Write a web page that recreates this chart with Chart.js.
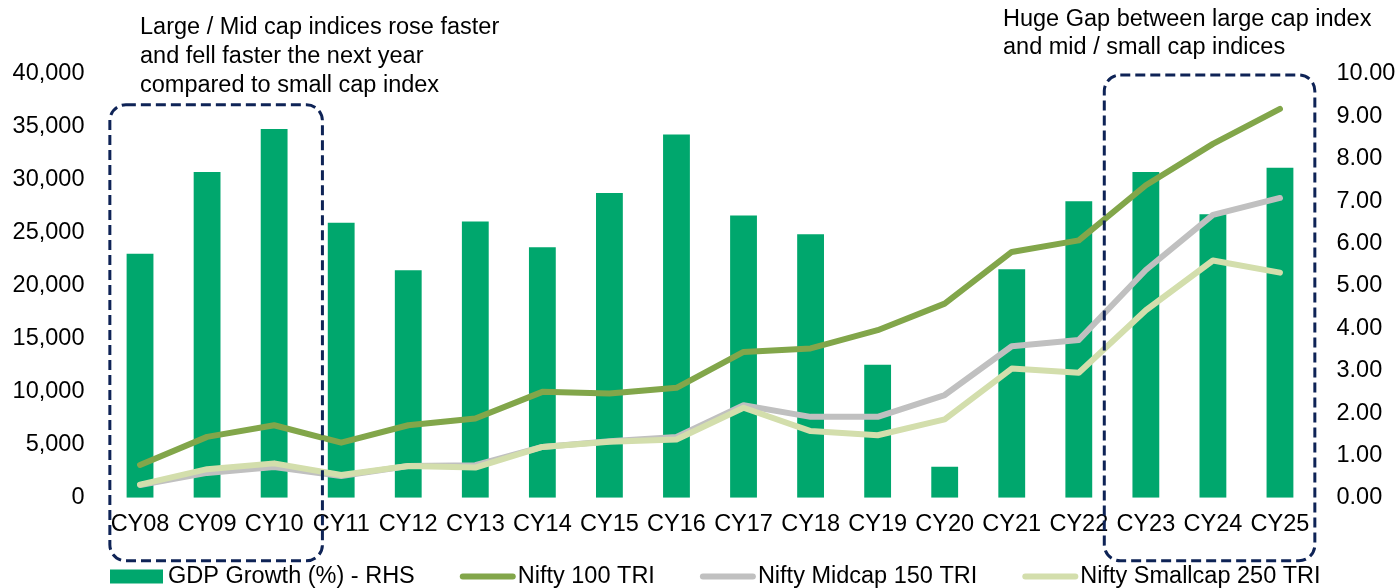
<!DOCTYPE html>
<html>
<head>
<meta charset="utf-8">
<script src="https://cdn.jsdelivr.net/npm/chart.js@4.4.1/dist/chart.umd.min.js"></script>
<style>
  html, body { margin: 0; padding: 0; background: #fff; }
  #wrap { position: relative; width: 1398px; height: 588px; }
</style>
</head>
<body>
<div id="wrap"><canvas id="indexChart"></canvas></div>
<script>
// --- data ---
const categories = ['CY08', 'CY09', 'CY10', 'CY11', 'CY12', 'CY13', 'CY14', 'CY15', 'CY16',
    'CY17', 'CY18', 'CY19', 'CY20', 'CY21', 'CY22', 'CY23', 'CY24', 'CY25'];
const gdpGrowth = [5.76, 7.69, 8.70, 6.49, 5.37, 6.52, 5.91, 7.19, 8.57, 6.66, 6.22, 3.14, 0.73, 5.39, 7.00, 7.69, 6.69, 7.79];
const nifty100 = [3100, 5750, 6850, 5200, 6850, 7480, 10000, 9850, 10380, 13770, 14100, 15820, 18330, 23200, 24300, 29500, 33400, 36700];
const midcap150 = [1200, 2350, 2900, 2050, 3000, 3080, 4800, 5340, 5750, 8740, 7640, 7640, 9700, 14300, 14900, 21500, 26700, 28300];
const smallcap250 = [1250, 2700, 3250, 2150, 3000, 2850, 4800, 5300, 5500, 8500, 6300, 5900, 7400, 12200, 11800, 17700, 22400, 21250];
const leftTicks = [0, 40000, 5000];   // min, max, step
const rightTicks = [0, 10, 1];

const noteLeft = ['Large / Mid cap indices rose faster', 'and fell faster the next year', 'compared to small cap index'];
const noteRight = ['Huge Gap between large cap index', 'and mid / small cap indices'];

const FONT = '"Liberation Sans", Arial, sans-serif';
const NAVY = '#0e2356';

// annotation boxes + notes + bottom legend
const extras = {
    id: 'extras',
    afterDatasetsDraw(chart) {
        const ctx = chart.ctx;
        const xs = chart.scales.x, yl = chart.scales.yLeft;
        const area = chart.chartArea;
        const step = xs.getPixelForValue(1) - xs.getPixelForValue(0);

        const box = (l, t, r, b, rad) => {
            ctx.beginPath();
            ctx.moveTo(l + rad, t);
            ctx.lineTo(r - rad, t);
            ctx.arcTo(r, t, r, t + rad, rad);
            ctx.lineTo(r, b - rad);
            ctx.arcTo(r, b, r - rad, b, rad);
            ctx.lineTo(l + rad, b);
            ctx.arcTo(l, b, l, b - rad, rad);
            ctx.lineTo(l, t + rad);
            ctx.arcTo(l, t, l + rad, t, rad);
            ctx.closePath();
            ctx.stroke();
        };

        ctx.save();
        ctx.strokeStyle = NAVY;
        ctx.lineWidth = 3;
        ctx.setLineDash([10, 5]);
        box(xs.getPixelForValue(0) - 0.45 * step, yl.getPixelForValue(37100),
            xs.getPixelForValue(2) + 0.72 * step, area.bottom + 63, 16);
        box(xs.getPixelForValue(15) - 0.62 * step, area.top + 1,
            xs.getPixelForValue(17) + 0.52 * step, area.bottom + 63, 16);
        ctx.restore();
    },
    afterDraw(chart) {
        const ctx = chart.ctx;
        ctx.save();
        ctx.fillStyle = '#000';
        ctx.font = '23.5px ' + FONT;
        ctx.textBaseline = 'alphabetic';
        ctx.textAlign = 'left';
        noteLeft.forEach((t, i) => ctx.fillText(t, 140, 34 + i * 29));
        noteRight.forEach((t, i) => ctx.fillText(t, 1003, 26 + i * 28));

        // legend
        let x = 110;
        const yMid = 576.5;
        chart.data.datasets.forEach(ds => {
            if (ds.type === 'bar') {
                ctx.fillStyle = ds.backgroundColor;
                ctx.fillRect(x, yMid - 7, 53, 14);
            } else {
                ctx.strokeStyle = ds.borderColor;
                ctx.lineWidth = 6;
                ctx.lineCap = 'round';
                ctx.beginPath();
                ctx.moveTo(x + 3, yMid);
                ctx.lineTo(x + 53, yMid);
                ctx.stroke();
            }
            x += 58;
            ctx.fillStyle = '#000';
            ctx.textBaseline = 'middle';
            ctx.fillText(ds.label, x, yMid);
            x += ctx.measureText(ds.label).width + 45;
        });
        ctx.restore();
    }
};

const lineStyle = { borderWidth: 6, pointRadius: 0, tension: 0, borderCapStyle: 'round', borderJoinStyle: 'round' };

new Chart(document.getElementById('indexChart'), {
    data: {
        labels: categories,
        datasets: [{
            type: 'bar',
            label: 'GDP Growth (%) - RHS',
            data: gdpGrowth,
            yAxisID: 'yRight',
            backgroundColor: '#00A76D',
            barPercentage: 0.8,
            categoryPercentage: 0.5,
            order: 4
        }, {
            type: 'line',
            label: 'Nifty 100 TRI',
            data: nifty100,
            yAxisID: 'yLeft',
            borderColor: '#82A64A',
            ...lineStyle,
            order: 1
        }, {
            type: 'line',
            label: 'Nifty Midcap 150 TRI',
            data: midcap150,
            yAxisID: 'yLeft',
            borderColor: '#C0C0C0',
            ...lineStyle,
            order: 3
        }, {
            type: 'line',
            label: 'Nifty Smallcap 250 TRI',
            data: smallcap250,
            yAxisID: 'yLeft',
            borderColor: '#D3DEAC',
            ...lineStyle,
            order: 2
        }]
    },
    options: {
        responsive: true,
        maintainAspectRatio: false,
        animation: false,
        layout: { padding: { top: 74, bottom: 37, left: 0, right: 0 } },
        plugins: { legend: { display: false }, tooltip: { enabled: false } },
        scales: {
            x: {
                offset: true,
                grid: { display: false, drawTicks: false },
                border: { display: false },
                ticks: { color: '#000', font: { family: FONT, size: 23.5 }, padding: 12.5, maxRotation: 0, autoSkip: false }
            },
            yLeft: {
                position: 'left',
                min: leftTicks[0], max: leftTicks[1],
                grid: { display: false, drawTicks: false },
                border: { display: false },
                ticks: {
                    stepSize: leftTicks[2], color: '#000', padding: 22,
                    font: { family: FONT, size: 23.5 },
                    callback: v => v.toLocaleString('en-US')
                },
                afterFit: s => { s.width = 106.5; }
            },
            yRight: {
                position: 'right',
                min: rightTicks[0], max: rightTicks[1],
                grid: { display: false, drawTicks: false },
                border: { display: false },
                ticks: {
                    stepSize: rightTicks[2], color: '#000', padding: 23,
                    font: { family: FONT, size: 23.5 },
                    callback: v => v.toFixed(2)
                },
                afterFit: s => { s.width = 84.5; }
            }
        }
    },
    plugins: [extras]
});
</script>
</body>
</html>
